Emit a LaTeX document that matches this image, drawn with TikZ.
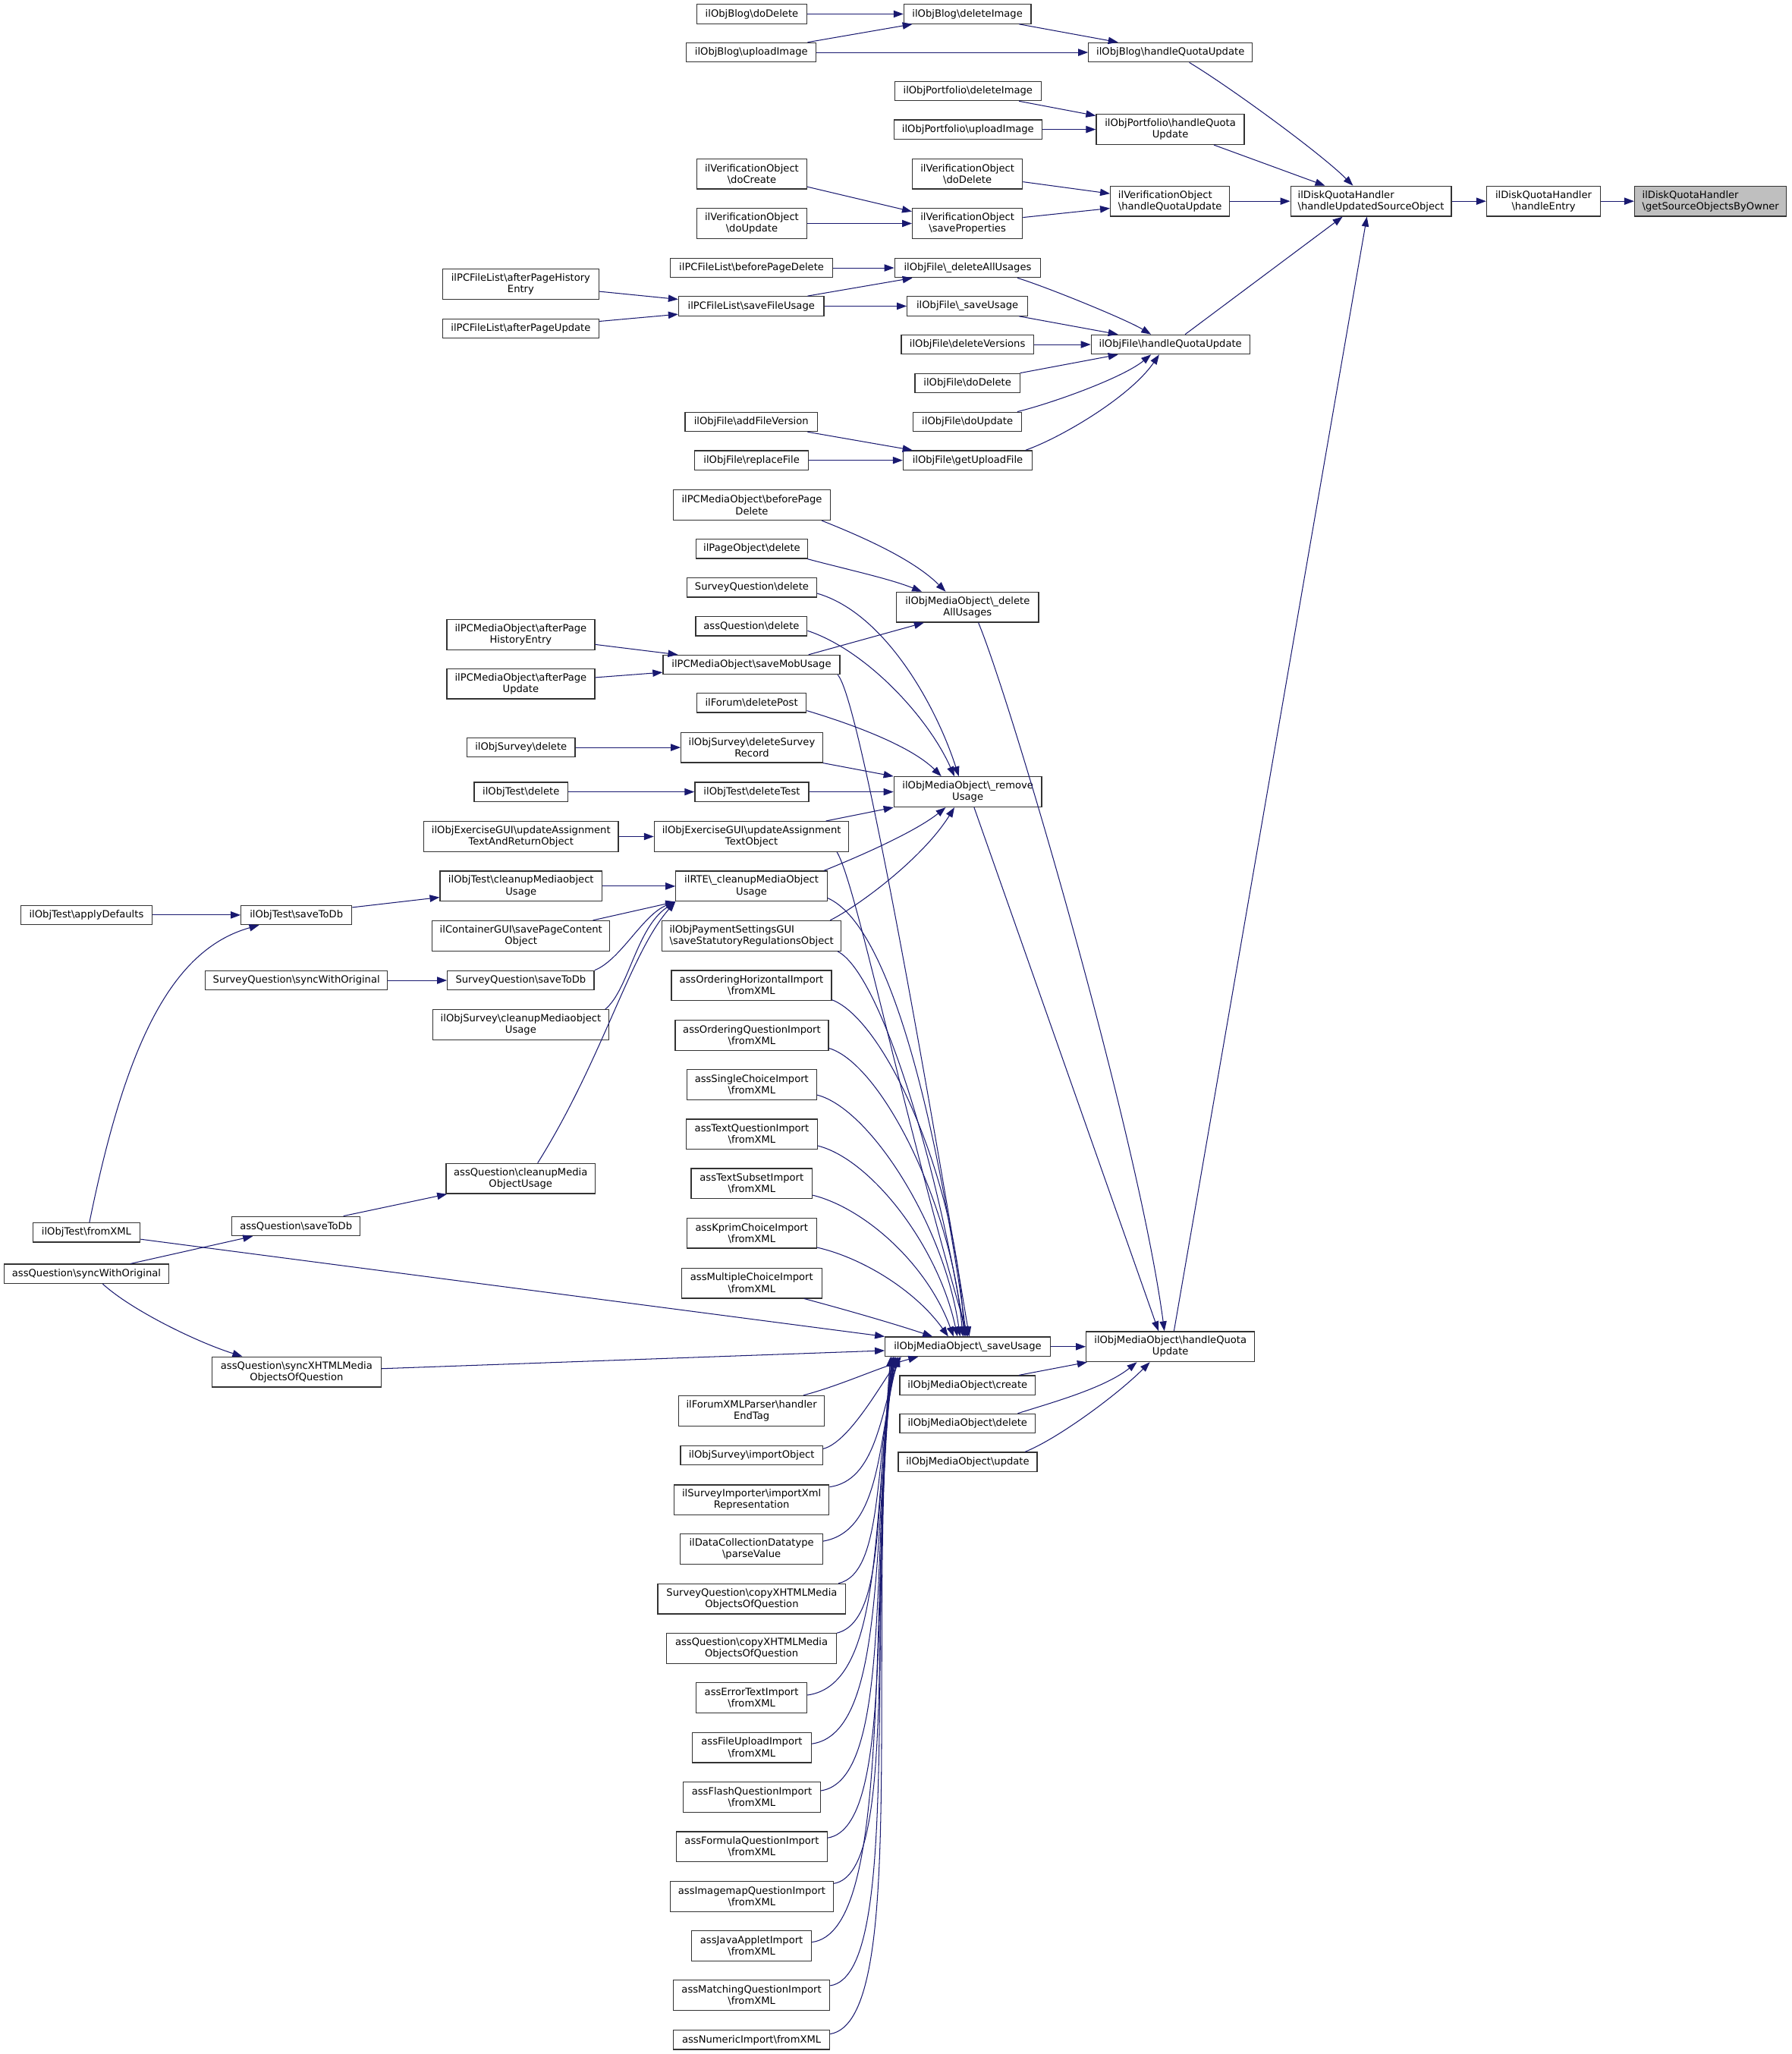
\documentclass[tikz,border=0pt]{standalone}
\usepackage{fontspec}
\usetikzlibrary{arrows.meta}
\newfontfamily\dvs{DejaVu Sans}
\newcommand\bsl{\textbackslash}
\definecolor{edgeblue}{HTML}{191970}
\definecolor{rootgray}{HTML}{BFBFBF}
\begin{document}
\begin{tikzpicture}[x=1pt,y=-1pt,
  fn/.style={draw=black!80, line width=0.75pt, fill=white, inner sep=0pt, minimum height=14.7pt, font=\dvs\fontsize{7.6}{8.8}\selectfont, align=center},
  fn2/.style={fn, minimum height=23pt},
  cl/.style={draw=edgeblue, line width=0.6pt, -{Triangle[length=7.5pt,width=5.4pt]}},
]
\fill[white] (0,0) rectangle (1368,1568);
\useasboundingbox (0,0) rectangle (1368,1568);

% ---------- nodes ----------
\node[fn2, fill=rootgray, align=left, minimum width=116pt] (root) at (1306,153.6) {ilDiskQuotaHandler\\\bsl getSourceObjectsByOwner};
\node[fn2, minimum width=87pt] (hEntry) at (1178.5,153.6) {ilDiskQuotaHandler\\\bsl handleEntry};
\node[fn2, align=left, minimum width=122.6pt] (hUSO) at (1046.7,153.6) {ilDiskQuotaHandler\\\bsl handleUpdatedSourceObject};

\node[fn, minimum width=125pt] (bHQU) at (893.6,40) {ilObjBlog\bsl handleQuotaUpdate};
\node[fn2, minimum width=113pt] (pHQU) at (893.5,98.8) {ilObjPortfolio\bsl handleQuota\\Update};
\node[fn2, align=left, minimum width=91pt] (vHQU) at (893.3,153.6) {ilVerificationObject\\\bsl handleQuotaUpdate};
\node[fn, minimum width=121pt] (fHQU) at (893.6,263) {ilObjFile\bsl handleQuotaUpdate};
\node[fn2, minimum width=128.6pt] (mHQU) at (893.6,1028) {ilObjMediaObject\bsl handleQuota\\Update};

\node[fn, minimum width=97pt] (bDelImg) at (738.6,10.7) {ilObjBlog\bsl deleteImage};
\node[fn, minimum width=84pt] (bDoDel) at (574,10.7) {ilObjBlog\bsl doDelete};
\node[fn, minimum width=99pt] (bUpl) at (573.6,40) {ilObjBlog\bsl uploadImage};
\node[fn, minimum width=112pt] (pDelImg) at (739,69.5) {ilObjPortfolio\bsl deleteImage};
\node[fn, minimum width=113pt] (pUpl) at (739,98.8) {ilObjPortfolio\bsl uploadImage};
\node[fn2, minimum width=84pt] (vDoDel) at (738.6,132.8) {ilVerificationObject\\\bsl doDelete};
\node[fn2, minimum width=84pt] (vSaveP) at (738.6,170.6) {ilVerificationObject\\\bsl saveProperties};
\node[fn2, minimum width=84pt] (vDoCreate) at (574,132.8) {ilVerificationObject\\\bsl doCreate};
\node[fn2, minimum width=84pt] (vDoUpd) at (574,170.6) {ilVerificationObject\\\bsl doUpdate};

\node[fn, minimum width=124pt] (pcBefore) at (573.8,204.5) {ilPCFileList\bsl beforePageDelete};
\node[fn, minimum width=111.5pt] (fDelAll) at (738.8,204.5) {ilObjFile\bsl\_deleteAllUsages};
\node[fn, minimum width=111pt] (pcSaveFU) at (573.6,233.7) {ilPCFileList\bsl saveFileUsage};
\node[fn, minimum width=92pt] (fSaveU) at (738.6,233.7) {ilObjFile\bsl\_saveUsage};
\node[fn2, minimum width=119.3pt] (pcAfterHist) at (397.6,216.9) {ilPCFileList\bsl afterPageHistory\\Entry};
\node[fn, minimum width=119.3pt] (pcAfterUpd) at (397.6,250.9) {ilPCFileList\bsl afterPageUpdate};
\node[fn, minimum width=101pt] (fDelVer) at (738.6,263) {ilObjFile\bsl deleteVersions};
\node[fn, minimum width=80pt] (fDoDel) at (738.6,292.5) {ilObjFile\bsl doDelete};
\node[fn, minimum width=83pt] (fDoUpd) at (738.6,322) {ilObjFile\bsl doUpdate};
\node[fn, minimum width=101pt] (fAddVer) at (573.6,322) {ilObjFile\bsl addFileVersion};
\node[fn, minimum width=87pt] (fReplace) at (573.8,351.4) {ilObjFile\bsl replaceFile};
\node[fn, minimum width=98.5pt] (fGetUp) at (738.8,351.4) {ilObjFile\bsl getUploadFile};

\node[fn2, minimum width=120pt] (pcmBefore) at (574,385.5) {ilPCMediaObject\bsl beforePage\\Delete};
\node[fn, minimum width=85.5pt] (pageDel) at (574,419) {ilPageObject\bsl delete};
\node[fn, minimum width=99pt] (sqDel) at (574,448.5) {SurveyQuestion\bsl delete};
\node[fn2, minimum width=108.5pt] (mDelAll) at (738.7,463.5) {ilObjMediaObject\bsl\_delete\\AllUsages};
\node[fn, minimum width=85pt] (aqDel) at (573.7,478) {assQuestion\bsl delete};
\node[fn2, minimum width=113pt] (pcmAfterHist) at (397.6,484.5) {ilPCMediaObject\bsl afterPage\\HistoryEntry};
\node[fn, minimum width=135pt] (pcmSaveMob) at (573.7,507.5) {ilPCMediaObject\bsl saveMobUsage};
\node[fn2, minimum width=113pt] (pcmAfterUpd) at (397.6,522) {ilPCMediaObject\bsl afterPage\\Update};
\node[fn, minimum width=83.6pt] (forumDel) at (573.8,536.5) {ilForum\bsl deletePost};
\node[fn, minimum width=82.5pt] (osDel) at (397.8,570.6) {ilObjSurvey\bsl delete};
\node[fn2, minimum width=108pt] (osDelRec) at (574,570.6) {ilObjSurvey\bsl deleteSurvey\\Record};
\node[fn, minimum width=71.4pt] (otDel) at (397.8,604.5) {ilObjTest\bsl delete};
\node[fn, minimum width=87pt] (otDelTest) at (574,604.5) {ilObjTest\bsl deleteTest};
\node[fn2, minimum width=112.8pt] (mRemove) at (738.9,604.5) {ilObjMediaObject\bsl\_remove\\Usage};
\node[fn2, minimum width=148.4pt] (exRet) at (397.8,638.6) {ilObjExerciseGUI\bsl updateAssignment\\TextAndReturnObject};
\node[fn2, minimum width=148.5pt] (exText) at (573.8,638.6) {ilObjExerciseGUI\bsl updateAssignment\\TextObject};
\node[fn2, minimum width=123.6pt] (otCleanup) at (397.8,676.5) {ilObjTest\bsl cleanupMediaobject\\Usage};
\node[fn2, minimum width=115.6pt] (rte) at (573.8,676.5) {ilRTE\bsl\_cleanupMediaObject\\Usage};
\node[fn2, minimum width=135.6pt] (contGUI) at (397.8,714.4) {ilContainerGUI\bsl savePageContent\\Object};
\node[fn2, align=left, minimum width=136.6pt] (pay) at (573.8,714.4) {ilObjPaymentSettingsGUI\\\bsl saveStatutoryRegulationsObject};
\node[fn, minimum width=100.5pt] (otApply) at (66,698.5) {ilObjTest\bsl applyDefaults};
\node[fn, minimum width=84.5pt] (otSave) at (226.3,698.5) {ilObjTest\bsl saveToDb};
\node[fn, minimum width=139pt] (sqSync) at (226.3,748.4) {SurveyQuestion\bsl syncWithOriginal};
\node[fn, minimum width=112pt] (sqSave) at (397.6,748.4) {SurveyQuestion\bsl saveToDb};
\node[fn2, minimum width=134.3pt] (osCleanup) at (397.6,782.3) {ilObjSurvey\bsl cleanupMediaobject\\Usage};

\node[fn2, minimum width=122.2pt] (ordH) at (573.7,752.4) {assOrderingHorizontalImport\\\bsl fromXML};
\node[fn2, minimum width=117pt] (ordQ) at (574,790.3) {assOrderingQuestionImport\\\bsl fromXML};
\node[fn2, minimum width=99pt] (single) at (573.9,828) {assSingleChoiceImport\\\bsl fromXML};
\node[fn2, minimum width=100pt] (textQ) at (574,865.8) {assTextQuestionImport\\\bsl fromXML};
\node[fn2, minimum width=92.4pt] (textS) at (573.9,903.5) {assTextSubsetImport\\\bsl fromXML};
\node[fn2, minimum width=99pt] (kprim) at (573.9,941.4) {assKprimChoiceImport\\\bsl fromXML};
\node[fn2, minimum width=107pt] (multi) at (573.9,979.5) {assMultipleChoiceImport\\\bsl fromXML};
\node[fn2, minimum width=113.8pt] (aqCleanup) at (397.5,899.7) {assQuestion\bsl cleanupMedia\\ObjectUsage};
\node[fn, minimum width=98pt] (aqSave) at (226,936) {assQuestion\bsl saveToDb};
\node[fn, minimum width=82pt] (otFromXML) at (66,940.8) {ilObjTest\bsl fromXML};
\node[fn, minimum width=125.7pt] (aqSync) at (66,972.4) {assQuestion\bsl syncWithOriginal};
\node[fn2, minimum width=129.2pt] (aqSyncX) at (226.4,1047.3) {assQuestion\bsl syncXHTMLMedia\\ObjectsOfQuestion};

\node[fn, minimum width=126pt] (mSave) at (738.8,1028) {ilObjMediaObject\bsl\_saveUsage};
\node[fn, minimum width=103.4pt] (mCreate) at (738.7,1057.5) {ilObjMediaObject\bsl create};
\node[fn, minimum width=103.4pt] (mDelete) at (738.7,1086.7) {ilObjMediaObject\bsl delete};
\node[fn, minimum width=106pt] (mUpdate) at (738.8,1116) {ilObjMediaObject\bsl update};

\node[fn2, minimum width=111.3pt] (forumXML) at (573.8,1077) {ilForumXMLParser\bsl handler\\EndTag};
\node[fn, minimum width=108.5pt] (osImport) at (573.8,1111) {ilObjSurvey\bsl importObject};
\node[fn2, minimum width=118.4pt] (svImporter) at (573.8,1145) {ilSurveyImporter\bsl importXml\\Representation};
\node[fn2, minimum width=108.7pt] (dcParse) at (573.8,1182.5) {ilDataCollectionDatatype\\\bsl parseValue};
\node[fn2, minimum width=143.5pt] (sqCopy) at (574,1220.6) {SurveyQuestion\bsl copyXHTMLMedia\\ObjectsOfQuestion};
\node[fn2, minimum width=129.6pt] (aqCopy) at (573.8,1258.5) {assQuestion\bsl copyXHTMLMedia\\ObjectsOfQuestion};
\node[fn2, minimum width=84.5pt] (errText) at (573.8,1296) {assErrorTextImport\\\bsl fromXML};
\node[fn2, minimum width=90.7pt] (fileUp) at (574,1334) {assFileUploadImport\\\bsl fromXML};
\node[fn2, minimum width=104.5pt] (flash) at (574,1372) {assFlashQuestionImport\\\bsl fromXML};
\node[fn2, minimum width=115pt] (formula) at (574,1409.7) {assFormulaQuestionImport\\\bsl fromXML};
\node[fn2, minimum width=124.4pt] (imagemap) at (574,1447.7) {assImagemapQuestionImport\\\bsl fromXML};
\node[fn2, minimum width=91.5pt] (java) at (573.8,1485.4) {assJavaAppletImport\\\bsl fromXML};
\node[fn2, minimum width=119.3pt] (matching) at (573.8,1523.2) {assMatchingQuestionImport\\\bsl fromXML};
\node[fn, minimum width=119.3pt] (numeric) at (573.8,1557.2) {assNumericImport\bsl fromXML};

% ---------- edges ----------
\draw[cl] (hEntry.east) -- (root.west);
\draw[cl] (hUSO.east) -- (hEntry.west);
\draw[cl] (vHQU.east) -- (hUSO.west);
\draw[cl] ([xshift=14.4pt]bHQU.south) .. controls +(30,18) and +(-25,-25) .. ([xshift=-13.7pt]hUSO.north);
\draw[cl] ([xshift=33.3pt]pHQU.south) -- ([xshift=-35.1pt]hUSO.north);
\draw[cl] ([xshift=11.2pt]fHQU.north) -- ([xshift=-21.7pt]hUSO.south);
\draw[cl] ([xshift=2.7pt]mHQU.north) -- ([xshift=-3.1pt]hUSO.south);

\draw[cl] ([xshift=39.4pt]bDelImg.south) -- ([xshift=-40pt]bHQU.north);
\draw[cl] (bUpl.east) -- (bHQU.west);
\draw[cl] (bDoDel.east) -- (bDelImg.west);
\draw[cl] ([xshift=43pt]bUpl.north) -- ([xshift=-42pt]bDelImg.south);

\draw[cl] ([xshift=39pt]pDelImg.south) -- ([yshift=-1.4pt]pHQU.north west);
\draw[cl] (pUpl.east) -- (pHQU.west);

\draw[cl] ([yshift=-6pt]vDoDel.east) -- ([yshift=5.8pt]vHQU.west);
\draw[cl] ([yshift=4.6pt]vSaveP.east) -- ([yshift=-5.4pt]vHQU.west);
\draw[cl] ([yshift=-9.8pt]vDoCreate.east) -- ([yshift=9.1pt]vSaveP.west);
\draw[cl] (vDoUpd.east) -- (vSaveP.west);

\draw[cl] (pcBefore.east) -- (fDelAll.west);
\draw[cl] ([xshift=42.9pt]pcSaveFU.north) -- ([xshift=-42.2pt]fDelAll.south);
\draw[cl] (pcSaveFU.east) -- (fSaveU.west);
\draw[cl] ([yshift=-5.6pt]pcAfterHist.east) -- ([yshift=5.2pt]pcSaveFU.west);
\draw[cl] ([yshift=5.6pt]pcAfterUpd.east) -- ([yshift=-6.2pt]pcSaveFU.west);
\draw[cl] ([xshift=38pt]fDelAll.south) .. controls +(20,6) and +(-20,-12) .. ([xshift=-14.8pt]fHQU.north);
\draw[cl] ([xshift=39.4pt]fSaveU.south) -- ([xshift=-40pt]fHQU.north);
\draw[cl] (fDelVer.east) -- (fHQU.west);
\draw[cl] ([xshift=40.2pt]fDoDel.north) -- ([xshift=-40pt]fHQU.south);
\draw[cl] ([xshift=38.1pt]fDoUpd.north) .. controls +(25,-6) and +(-22,18) .. ([xshift=-14.8pt]fHQU.south);
\draw[cl] ([xshift=44.2pt]fGetUp.north) .. controls +(28,-10) and +(-22,32) .. ([xshift=-8.6pt]fHQU.south);
\draw[cl] ([xshift=42.9pt]fAddVer.south) -- ([xshift=-42.2pt]fGetUp.north);
\draw[cl] (fReplace.east) -- (fGetUp.west);

\draw[cl] ([xshift=53.3pt]pcmBefore.south) .. controls +(30,12) and +(-25,-25) .. ([xshift=-16.7pt]mDelAll.north);
\draw[cl] ([xshift=42.6pt]pageDel.south) .. controls +(30,8) and +(-25,-10) .. ([xshift=-34.9pt]mDelAll.north);
\draw[cl] ([xshift=43.6pt]pcmSaveMob.north) -- ([xshift=-33.3pt]mDelAll.south);
\draw[cl] ([yshift=-4.5pt]sqDel.east) .. controls +(52,15) and +(-17,-53) .. ([xshift=-6.9pt]mRemove.north);
\draw[cl] ([yshift=-3.5pt]aqDel.east) .. controls +(45,15) and +(-20,-45) .. ([xshift=-10.2pt]mRemove.north);
\draw[cl] ([yshift=-6pt]forumDel.east) .. controls +(40,12) and +(-22,-22) .. ([xshift=-20.2pt]mRemove.north);
\draw[cl] (osDelRec.south east) -- (mRemove.north west);
\draw[cl] (otDelTest.east) -- (mRemove.west);
\draw[cl] ([xshift=56.8pt]exText.north) -- (mRemove.south west);
\draw[cl] ([xshift=55.2pt]rte.north) .. controls +(20,-8) and +(-25,20) .. ([xshift=-16.9pt]mRemove.south);
\draw[cl] ([xshift=60pt]pay.north) .. controls +(20,-10) and +(-25,40) .. ([xshift=-10.2pt]mRemove.south);

\draw[cl] ([yshift=-7.5pt]pcmAfterHist.east) -- ([xshift=-56.2pt]pcmSaveMob.north);
\draw[cl] ([yshift=4.8pt]pcmAfterUpd.east) -- ([yshift=-5.8pt]pcmSaveMob.west);
\draw[cl] (osDel.east) -- (osDelRec.west);
\draw[cl] (otDel.east) -- (otDelTest.west);
\draw[cl] (exRet.east) -- (exText.west);
\draw[cl] (otCleanup.east) -- (rte.west);
\draw[cl] ([xshift=54.9pt]contGUI.north) -- (rte.south west);
\draw[cl] (sqSave.north east) .. controls +(20,-8) and +(-25,10) .. (rte.south west);
\draw[cl] ([xshift=-3pt]osCleanup.north east) .. controls +(18,-15) and +(-30,20) .. (rte.south west);
\draw[cl] ([xshift=13pt]aqCleanup.north) .. controls +(50,-80) and +(-35,40) .. (rte.south west);
\draw[cl] ([yshift=5.8pt]otSave.east) -- ([yshift=-8.5pt]otCleanup.west);
\draw[cl] (otApply.east) -- (otSave.west);
\draw[cl] (sqSync.east) -- (sqSave.west);
\draw[cl] ([xshift=2.3pt]otFromXML.north) .. controls +(27,-133) and +(-68,19) .. ([xshift=-28.5pt]otSave.south);
\draw[cl] ([yshift=-5.2pt]otFromXML.east) -- (mSave.north west);
\draw[cl] ([yshift=2.5pt]aqSyncX.east) -- ([yshift=-3pt]mSave.west);
\draw[cl] ([xshift=33.6pt]aqSync.north) -- ([xshift=-33pt]aqSave.south);
\draw[cl] ([xshift=12.4pt]aqSync.south) .. controls +(22,20) and +(-35,-11) .. ([xshift=-41.4pt]aqSyncX.north);
\draw[cl] ([xshift=36.2pt]aqSave.north) -- ([xshift=1pt]aqCleanup.south west);

\draw[cl] ([xshift=8.3pt]mDelAll.south) .. controls +(25,60) and +(-20,-150) .. ([xshift=-4.6pt]mHQU.north);
\draw[cl] ([xshift=4.8pt]mRemove.south) -- ([xshift=-9.1pt]mHQU.north);
\draw[cl] (mSave.east) -- (mHQU.west);
\draw[cl] ([xshift=39.3pt]mCreate.north) -- ([xshift=1pt]mHQU.south west);
\draw[cl] ([xshift=38.3pt]mDelete.north) .. controls +(25,-8) and +(-25,20) .. ([xshift=-25.6pt]mHQU.south);
\draw[cl] ([xshift=43.8pt]mUpdate.north) .. controls +(25,-10) and +(-25,25) .. ([xshift=-15.7pt]mHQU.south);

% into _saveUsage from above
\draw[cl] ([xshift=-2pt]pcmSaveMob.south east) .. controls +(15,15) and +(-40,-240) .. ([xshift=1.2pt]mSave.north);
\draw[cl] ([xshift=65.2pt]exText.south) .. controls +(15,25) and +(-50,-170) .. ([xshift=0.2pt]mSave.north);
\draw[cl] ([yshift=-9.1pt]rte.east) .. controls +(45,20) and +(-25,-180) .. ([xshift=-0.8pt]mSave.north);
\draw[cl] ([xshift=-3pt]pay.south east) .. controls +(30,15) and +(-25,-150) .. ([xshift=-1.8pt]mSave.north);
\draw[cl] ([yshift=1pt]ordH.south east) .. controls +(40,15) and +(-5,-120) .. ([xshift=-2.8pt]mSave.north);
\draw[cl] ([yshift=2pt]ordQ.south east) .. controls +(40,12) and +(-8,-100) .. ([xshift=-3.8pt]mSave.north);
\draw[cl] ([yshift=4pt]single.south east) .. controls +(40,10) and +(-12,-85) .. ([xshift=-5.8pt]mSave.north);
\draw[cl] ([yshift=3pt]textQ.south east) .. controls +(40,10) and +(-15,-70) .. ([xshift=-7.8pt]mSave.north);
\draw[cl] ([yshift=3pt]textS.south east) .. controls +(40,10) and +(-20,-55) .. ([xshift=-10.8pt]mSave.north);
\draw[cl] ([yshift=1pt]kprim.south east) .. controls +(35,8) and +(-25,-35) .. ([xshift=-14.8pt]mSave.north);
\draw[cl] ([xshift=40.1pt]multi.south) .. controls +(30,8) and +(-30,-10) .. ([xshift=-26.8pt]mSave.north);

% into _saveUsage from below
\draw[cl] ([xshift=39.6pt]forumXML.north) .. controls +(30,-8) and +(-30,8) .. ([xshift=-37.8pt]mSave.south);
\draw[cl] ([yshift=5pt]osImport.east) .. controls +(20,-5) and +(-15,20) .. ([xshift=-50.8pt]mSave.south);
\draw[cl] ([yshift=-2pt]svImporter.north east) .. controls +(35,-5) and +(-15,45) .. ([xshift=-51.8pt]mSave.south);
\draw[cl] ([yshift=6pt]dcParse.east) .. controls +(45,-8) and +(-16,63) .. ([xshift=-52.8pt]mSave.south);
\draw[cl] ([xshift=-6pt]sqCopy.north east) .. controls +(35,-8) and +(-18,78) .. ([xshift=-53.8pt]mSave.south);
\draw[cl] (aqCopy.north east) .. controls +(40,-10) and +(-18,95) .. ([xshift=-54.8pt]mSave.south);
\draw[cl] ([yshift=2pt]errText.east) .. controls +(60,-8) and +(-18,116) .. ([xshift=-55.8pt]mSave.south);
\draw[cl] ([yshift=2.8pt]fileUp.east) .. controls +(58,-8) and +(-18,133) .. ([xshift=-55.8pt]mSave.south);
\draw[cl] ([yshift=5pt]flash.east) .. controls +(55,-8) and +(-18,149) .. ([xshift=-56.8pt]mSave.south);
\draw[cl] ([yshift=6.7pt]formula.east) .. controls +(52,-8) and +(-18,165) .. ([xshift=-56.8pt]mSave.south);
\draw[cl] ([yshift=-2pt]imagemap.north east) .. controls +(50,-8) and +(-18,181) .. ([xshift=-57.8pt]mSave.south);
\draw[cl] ([yshift=2.8pt]java.east) .. controls +(62,-8) and +(-18,201) .. ([xshift=-57.8pt]mSave.south);
\draw[cl] ([yshift=7.4pt]matching.east) .. controls +(55,-8) and +(-18,216) .. ([xshift=-58.8pt]mSave.south);
\draw[cl] ([yshift=4.5pt]numeric.east) .. controls +(60,-10) and +(-18,233) .. ([xshift=-58.8pt]mSave.south);
\end{tikzpicture}
\end{document}
